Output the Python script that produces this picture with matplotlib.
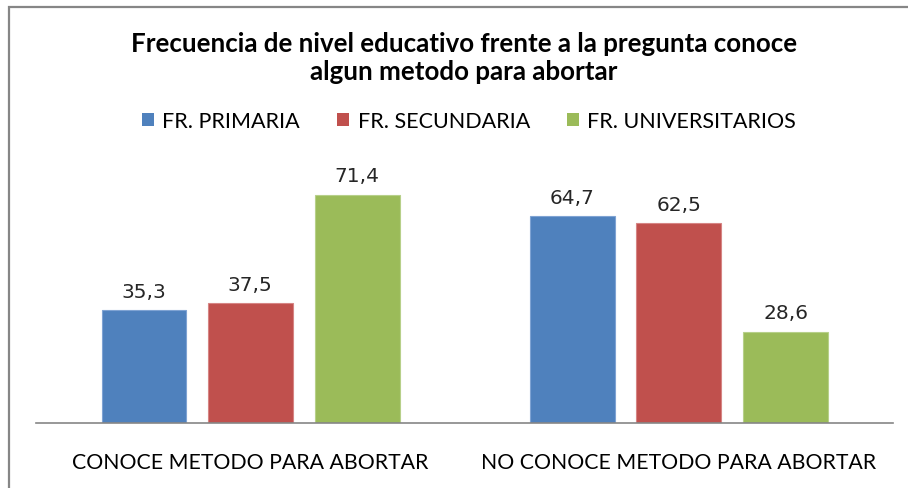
import matplotlib
matplotlib.use("Agg")
import matplotlib.pyplot as plt
from matplotlib.patches import Rectangle, Patch
import numpy as np

categories = ["CONOCE METODO PARA ABORTAR", "NO CONOCE METODO PARA ABORTAR"]
series_names = ["FR. PRIMARIA", "FR. SECUNDARIA", "FR. UNIVERSITARIOS"]
primaria = [35.3, 64.7]
secundaria = [37.5, 62.5]
universitarios = [71.4, 28.6]
value_labels = [["35,3", "64,7"], ["37,5", "62,5"], ["71,4", "28,6"]]
title = "Frecuencia de nivel educativo frente a la pregunta conoce\nalgun metodo para abortar"

colors = ["#4F81BD", "#C0504D", "#9BBB59"]
edges = ["#7FA3D3", "#D68584", "#B7D08A"]

W, H = 908, 489
fig = plt.figure(figsize=(W / 100, H / 100), dpi=100)
fig.patch.set_facecolor("white")

# chart border
fig.patches.append(Rectangle((9 / W, -0.1), 1.2, (H - 8) / H + 0.1,
                             transform=fig.transFigure, fill=False,
                             edgecolor="#868686", linewidth=1.6))

ax = fig.add_axes([36 / W, (H - 424.3) / H, (893 - 36) / W, (424.3 - 168.3) / H])
x = np.arange(len(categories))
width = 0.198
offsets = [-0.248, 0.0, 0.250]
all_series = [primaria, secundaria, universitarios]
for i, (vals, off) in enumerate(zip(all_series, offsets)):
    bars = ax.bar(x + off, vals, width, color=colors[i], edgecolor=edges[i],
                  linewidth=0.8, label=series_names[i], zorder=2)
    for b, lab in zip(bars, value_labels[i]):
        ax.annotate(lab, (b.get_x() + b.get_width() / 2, b.get_height()),
                    xytext=(0, 7), textcoords="offset points",
                    ha="center", va="bottom", fontsize=14.5,
                    family="DejaVu Sans", color="#262626")

ax.set_xlim(-0.5, 1.5)
ax.set_ylim(0, 80)
ax.set_yticks([])
ax.set_xticks(x)
ax.set_xticklabels(categories, fontsize=15.3, family="Lato", color="#000000")
ax.tick_params(axis="x", length=0, pad=21)
for s in ["top", "right", "left"]:
    ax.spines[s].set_visible(False)
ax.spines["bottom"].set_color("#868686")
ax.spines["bottom"].set_linewidth(1.2)

fig.text(464 / W, 1 - 58 / H, title, ha="center", va="center",
         fontsize=18.6, fontweight="bold", family="Lato", linespacing=1.15)

handles = [Patch(facecolor=c, edgecolor="none") for c in colors]
fig.legend(handles, series_names, loc="center", bbox_to_anchor=(469 / W, 1 - 122 / H),
           ncol=3, frameon=False, prop={"family": "Lato", "size": 15.5},
           handlelength=0.55, handleheight=0.55, handletextpad=0.4,
           columnspacing=1.72)

fig.savefig("out.png", dpi=100)
